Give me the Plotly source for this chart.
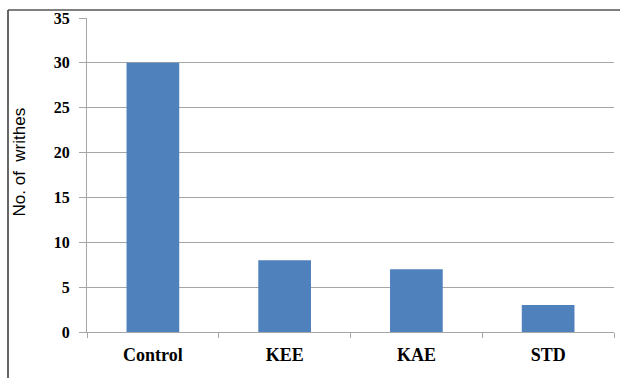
import plotly.graph_objects as go

categories = ["Control", "KEE", "KAE", "STD"]
writhes = [30, 8, 7, 3]
y_ticks = [0, 5, 10, 15, 20, 25, 30, 35]

fig = go.Figure(go.Bar(x=categories, y=writhes, marker_color="#4F81BD",
                       marker_line_width=0))

L, R, T, B = 87, 6, 18, 46
W, H = 620, 378
pw, ph = W - L - R, H - T - B

def px(x):
    return (x - L) / pw

def py(y):
    return (H - B - y) / ph

fig.update_layout(
    width=W, height=H,
    margin=dict(l=L, r=R, t=T, b=B, pad=0),
    paper_bgcolor="white", plot_bgcolor="white",
    bargap=0.6,
    showlegend=False,
    xaxis=dict(showline=True, linecolor="#A6A6A6", linewidth=1,
               ticks="outside", tickson="boundaries", ticklen=5,
               tickcolor="#A6A6A6", ticklabelstandoff=6,
               tickfont=dict(family="Liberation Serif", size=18, color="black", weight="bold"),
               showgrid=False),
    yaxis=dict(range=[0, 35], tickvals=y_ticks, showline=True, linecolor="#A6A6A6",
               linewidth=1, ticks="outside", ticklen=7, tickcolor="#A6A6A6",
               ticklabelstandoff=6,
               showgrid=True, gridcolor="#A6A6A6", gridwidth=1, zeroline=False,
               tickfont=dict(family="Liberation Serif", size=16, color="black", weight="bold")),
    annotations=[dict(text="No. of  writhes", textangle=-90, x=px(18.5), y=py(162),
                      xref="paper", yref="paper", showarrow=False,
                      xanchor="center", yanchor="middle",
                      font=dict(family="Liberation Sans", size=17, color="black"))],
    shapes=[
        dict(type="line", xref="paper", yref="paper", x0=px(8), x1=px(8),
             y0=py(10), y1=py(380), line=dict(color="black", width=1.2)),
        dict(type="line", xref="paper", yref="paper", x0=px(8), x1=px(622),
             y0=py(10), y1=py(10), line=dict(color="#555555", width=1.5)),
    ],
)

fig.write_html("out.html")
